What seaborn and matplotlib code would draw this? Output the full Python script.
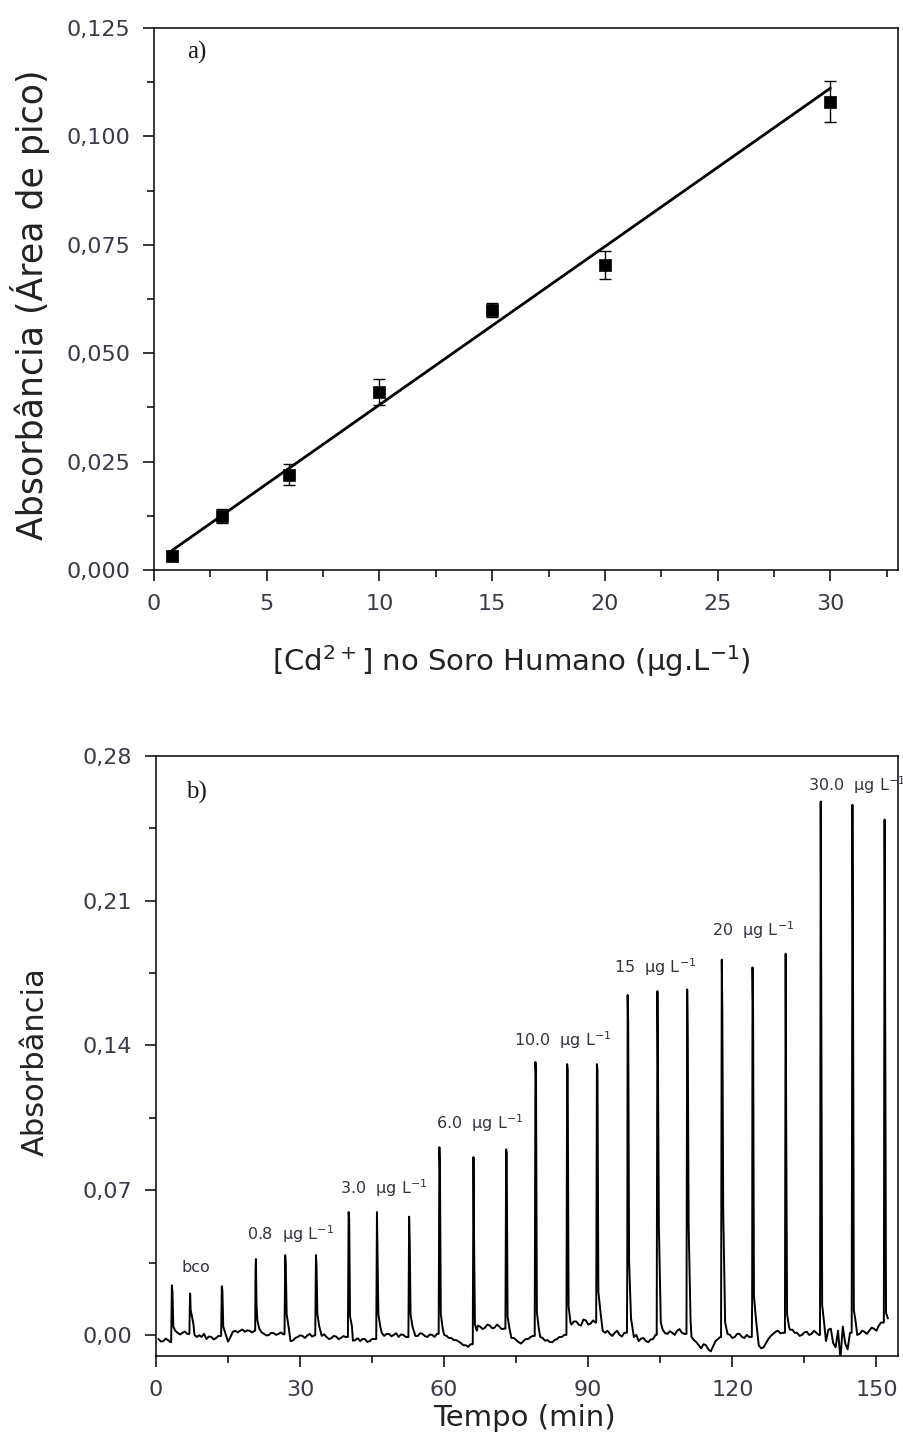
import numpy as np
import pandas as pd
import matplotlib
matplotlib.use("Agg")
import matplotlib.pyplot as plt
import seaborn as sns
from matplotlib.ticker import MultipleLocator, FuncFormatter

# ---------------- (a) calibration curve in human serum ----------------
cd_conc = [0.8, 3, 6, 10, 15, 20, 30]
absorb_area = [0.0032, 0.0125, 0.0220, 0.0410, 0.0600, 0.0703, 0.1080]
absorb_err = [0.0010, 0.0016, 0.0025, 0.0030, 0.0016, 0.0032, 0.0047]
fit_slope = 0.00365
fit_intercept = 0.0016
fit_range = [0.8, 30]

# ---------------- (b) transient signals vs time ----------------
peak_time = [3.3, 7.1, 13.7, 20.8, 26.9, 33.3, 40.1, 46.0, 52.7, 59.0, 66.1, 72.9,
             79.0, 85.6, 91.8, 98.2, 104.4, 110.6, 117.8, 124.2, 131.1, 138.4, 145.0, 151.7]
peak_rise = [0.0, 0.0118, 0.0, 0.032, 0.0, 0.0, 0.0, 0.0, 0.0, 0.0, 0.0, 0.0,
             0.0, 0.0, 0.0, 0.033, 0.0, 0.0, 0.0, 0.016, 0.078, 0.098, 0.104, 0.111]
peak_top = [0.0240, 0.0200, 0.0235, 0.0367, 0.0386, 0.0386, 0.0594, 0.0594, 0.0572, 0.0908, 0.0860, 0.0898,
            0.1320, 0.1310, 0.1310, 0.1644, 0.1663, 0.1671, 0.1815, 0.1778, 0.1844, 0.2580, 0.2564, 0.2493]
peak_fall1 = [0.0210, 0.0118, 0.0215, 0.0150, 0.0330, 0.0330, 0.0560, 0.0410, 0.0456, 0.0800, 0.0464, 0.0880,
              0.1250, 0.1280, 0.1280, 0.1500, 0.1290, 0.1426, 0.1556, 0.1565, 0.0980, 0.1640, 0.1797, 0.1627]
peak_fall2 = [0.004, 0.010, 0.004, 0.007, 0.010, 0.010, 0.009, 0.010, 0.010, 0.010, 0.005, 0.009,
              0.011, 0.014, 0.021, 0.036, 0.053, 0.053, 0.060, 0.019, 0.010, 0.0145, 0.012, 0.0106]
peak_tail = [0.002, 0.005, 0.001, 0.003, 0.004, 0.004, 0.004, 0.004, 0.004, 0.003, 0.002, 0.003,
             0.003, 0.006, 0.012, 0.008, 0.006, 0.007, 0.006, 0.008, 0.004, 0.006, 0.006, 0.008]

# baseline readings (x1e-3) every half minute, 0.5 -> 152.5 min
baseline_time = np.arange(0.5, 152.75, 0.5)
baseline_milli = [
    -2.0, -3.2, -3.0, -1.8, -2.5, -3.5, 0.5, 1.5, 1.0, 0.2,
    1.0, 1.6, 0.5, 1.2, 0.0, 0.0, -1.0, -0.2, -1.0, 0.5,
    -2.0, -0.8, -1.0, -2.2, -1.5, -0.5, -0.5, 0.5, -2.7, -3.2,
    -1.0, 1.5, 2.0, 1.2, 2.0, 2.6, 1.5, 2.2, 2.0, 1.2,
    2.0, 0.0, 0.5, 1.2, 0.5, -0.3, 0.0, 1.0, 0.8, 0.0,
    0.5, 1.2, 0.3, 0.0, -2.0, -3.0, -2.7, -1.5, -1.0, -0.2,
    -0.5, -1.5, -0.3, 0.5, -0.8, -0.2, 0.0, -1.2, -0.5, 0.3,
    -1.0, -2.0, -1.6, -0.5, -0.8, -2.0, -1.5, -0.6, -1.0, -1.0,
    -1.5, -2.8, -2.5, -1.6, -3.0, -2.0, -2.0, -3.4, -3.0, -2.0,
    -2.0, -1.0, 0.0, 1.0, -0.5, 0.5, 0.5, -0.7, 0.0, 0.8,
    -1.0, 0.2, 0.0, -1.0, 0.0, 1.2, 0.5, -0.5, -0.5, 0.8,
    0.5, -0.6, -1.0, 0.2, 0.0, -1.0, 0.5, 1.5, 0.5, 0.0,
    -0.5, -1.5, -1.5, -2.5, -2.5, -3.2, -4.0, -5.0, -5.0, -5.8,
    -4.5, -4.0, 3.0, 4.5, 4.0, 2.8, 3.5, 5.0, 4.5, 3.2,
    3.5, 5.0, 4.0, 2.8, 3.0, 2.0, -0.5, -1.5, -1.5, -2.5,
    -3.5, -4.2, -3.0, -2.0, -2.0, -1.0, -0.5, 0.0, -0.5, -1.0,
    -1.5, -2.8, -2.5, -3.5, -3.5, -2.5, -2.0, -1.0, -1.0, 0.0,
    0.0, 1.0, 5.0, 6.5, 6.5, 5.0, 4.5, 7.5, 7.0, 5.0,
    5.5, 7.0, 6.0, 4.5, 3.5, 2.0, 1.0, 2.0, 0.5, -0.5,
    1.0, 2.0, 0.0, -0.8, 1.0, 0.5, 0.5, -0.5, -1.0, 0.0,
    -3.0, -1.8, -1.5, -3.0, -3.5, -2.2, -2.0, 0.0, 1.0, 2.0,
    2.5, 0.8, 0.5, 1.8, 1.0, 0.0, 2.0, 2.8, 1.0, 0.5,
    2.0, 0.5, -1.0, -2.5, -3.5, -5.0, -6.5, -4.5, -5.0, -7.0,
    -8.0, -5.5, -3.0, -2.0, -1.0, 0.5, 1.5, 0.5, 0.0, -1.5,
    -1.0, 0.5, 0.5, -1.0, -1.5, 0.0, -1.0, -2.5, -3.0, -4.5,
    -5.0, -6.5, -6.0, -4.0, -2.0, -0.5, 0.5, 1.5, 2.0, 0.8,
    1.0, 2.0, 1.0, 2.5, 2.5, 1.0, 1.0, -0.5, 0.0, 1.2,
    1.5, 0.0, 0.5, 2.0, 1.0, 0.0, 0.0, -1.0, -3.0, 2.5,
    3.0, -4.0, -6.0, 2.0, -11.5, 4.0, -4.0, -7.0, 1.0, -2.0,
    -1.0, 0.0, 0.5, 2.0, 1.5, 0.5, 2.0, 3.5, 3.0, 2.0,
    4.5, 6.0, 5.5, 4.5, 6.0,
]

band_labels = ["bco", "0.8  μg L$^{-1}$", "3.0  μg L$^{-1}$", "6.0  μg L$^{-1}$",
               "10.0  μg L$^{-1}$", "15  μg L$^{-1}$", "20  μg L$^{-1}$", "30.0  μg L$^{-1}$"]
band_label_time = [8.3, 28.1, 47.5, 67.5, 84.8, 104.0, 124.4, 146.0]
band_label_abs = [0.0324, 0.0488, 0.0711, 0.1025, 0.1426, 0.178, 0.196, 0.266]

# ---------------- assemble the trace from the readings ----------------
base_vals = np.array(baseline_milli) / 1000.0
pts = []
for t, b in zip(baseline_time, base_vals):
    if any((t > tp - 0.3) and (t < tp + 0.9) for tp in peak_time):
        continue
    pts.append((t, b))
for tp, r, top, f1, f2, tl in zip(peak_time, peak_rise, peak_top, peak_fall1, peak_fall2, peak_tail):
    before = base_vals[baseline_time <= tp - 0.3]
    pts.append((tp - 0.15, before[-1] if len(before) else 0.0))
    if r > 0:
        pts.append((tp - 0.08, r))
    pts.append((tp, top))
    pts.append((tp + 0.12, f1))
    pts.append((tp + 0.3, f2))
    pts.append((tp + 0.7, tl))
pts.sort(key=lambda p: p[0])
trace = pd.DataFrame(pts, columns=["Tempo", "Abs"])

calib = pd.DataFrame({"conc": cd_conc, "abs": absorb_area})
fit_df = pd.DataFrame({"conc": fit_range,
                       "abs": [fit_slope * x + fit_intercept for x in fit_range]})

# ---------------- figure ----------------
sns.set_theme(style="ticks")
plt.rcParams["font.family"] = ["DejaVu Sans"]
plt.rcParams["axes.linewidth"] = 1.1

tick_color = "#3a3a48"
label_color = "#222222"

fig = plt.figure(figsize=(9.04, 14.47), dpi=100)
ax1 = fig.add_axes([0.1704, 0.6061, 0.8230, 0.3746])
ax2 = fig.add_axes([0.1726, 0.0629, 0.8208, 0.4146])


def comma_fmt(decimals):
    return FuncFormatter(lambda v, pos: f"{v:.{decimals}f}".replace(".", ","))


for ax in (ax1, ax2):
    for s in ax.spines.values():
        s.set_color("black")
        s.set_linewidth(1.1)
    ax.tick_params(which="both", direction="out", top=False, right=False, colors="black",
                   labelcolor=tick_color, labelsize=16, width=1.1)
    ax.tick_params(which="major", length=8, pad=9)
    ax.tick_params(which="minor", length=5)
    ax.grid(False)
    ax.set_facecolor("white")

# panel (a)
ax1.errorbar(cd_conc, absorb_area, yerr=absorb_err, fmt="none", ecolor="black",
             elinewidth=1.0, capsize=4.5, capthick=1.0, zorder=3)
sns.lineplot(data=fit_df, x="conc", y="abs", ax=ax1, color="black", linewidth=2.0, zorder=2)
sns.scatterplot(data=calib, x="conc", y="abs", ax=ax1, marker="s", s=75, color="black",
                edgecolor="black", linewidth=0.5, zorder=4)
ax1.set_xlim(0, 33)
ax1.set_ylim(0, 0.125)
ax1.xaxis.set_major_locator(MultipleLocator(5))
ax1.xaxis.set_minor_locator(MultipleLocator(2.5))
ax1.yaxis.set_major_locator(MultipleLocator(0.025))
ax1.yaxis.set_minor_locator(MultipleLocator(0.0125))
ax1.yaxis.set_major_formatter(comma_fmt(3))
ax1.set_xlabel("[Cd$^{2+}$] no Soro Humano (μg.L$^{-1}$)", fontsize=21, color=label_color)
ax1.set_ylabel("Absorbância (Área de pico)", fontsize=25, color=label_color)
ax1.xaxis.set_label_coords(0.48, -0.135)
ax1.yaxis.set_label_coords(-0.14, 0.49)
ax1.text(0.058, 0.955, "a)", transform=ax1.transAxes, ha="center", va="center",
         fontsize=18, family=["Liberation Serif", "DejaVu Serif"], color="#1a1a1a")

# panel (b)
sns.lineplot(data=trace, x="Tempo", y="Abs", ax=ax2, sort=False, estimator=None,
             color="black", linewidth=1.4)
ax2.set_xlim(0, 154.5)
ax2.set_ylim(-0.0102, 0.28)
ax2.xaxis.set_major_locator(MultipleLocator(30))
ax2.xaxis.set_minor_locator(MultipleLocator(15))
ax2.yaxis.set_major_locator(MultipleLocator(0.07))
ax2.yaxis.set_minor_locator(MultipleLocator(0.035))
ax2.yaxis.set_major_formatter(comma_fmt(2))
ax2.set_xlabel("Tempo (min)", fontsize=21, color=label_color)
ax2.set_ylabel("Absorbância", fontsize=22, color=label_color)
ax2.xaxis.set_label_coords(0.497, -0.08)
ax2.yaxis.set_label_coords(-0.143, 0.49)
ax2.text(0.055, 0.94, "b)", transform=ax2.transAxes, ha="center", va="center",
         fontsize=18, family=["Liberation Serif", "DejaVu Serif"], color="#1a1a1a")
for lbl, tx, ty in zip(band_labels, band_label_time, band_label_abs):
    ax2.text(tx, ty, lbl, ha="center", va="center", fontsize=11.5, color="#333340")

fig.savefig("out.png", dpi=100, facecolor="white")
